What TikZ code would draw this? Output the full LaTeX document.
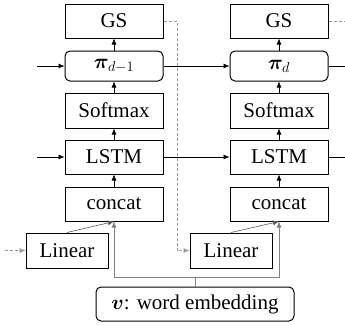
\documentclass[tikz,border=0pt]{standalone}
\usepackage{amsmath,bm}
\usepackage{fontspec}
\setmainfont{Liberation Serif}
\usetikzlibrary{arrows.meta}
\begin{document}
\begin{tikzpicture}[x=1pt,y=-1pt,
  box/.style={draw, line width=1pt, minimum width=98pt, inner sep=0pt, font=\fontsize{21}{24}\selectfont},
  rbox/.style={box, rounded corners=5pt},
  arr/.style={-{Latex[length=6pt,width=5pt]}, line width=0.6pt},
  grayline/.style={line width=0.6pt, draw=gray},
  dot/.style={densely dashed, line width=0.6pt, draw=gray!80}
]
\useasboundingbox (0,0) rectangle (345,325);
% left column
\node[box, minimum height=34pt] (gsL) at (114,21) {GS};
\node[rbox, minimum height=30pt] (piL) at (114,66) {$\bm{\pi}_{d-1}$};
\node[box, minimum height=35pt] (smL) at (114,110.5) {Softmax};
\node[box, minimum height=34pt] (lsL) at (114,157) {LSTM};
\node[box, minimum height=34pt] (ccL) at (114,204) {concat};
\node[box, minimum width=82pt, minimum height=35pt] (liL) at (67,250.5) {Linear};
% right column
\node[box, minimum height=34pt] (gsR) at (279,21) {GS};
\node[rbox, minimum height=30pt] (piR) at (279,66) {$\bm{\pi}_{d}$};
\node[box, minimum height=35pt] (smR) at (279,110.5) {Softmax};
\node[box, minimum height=34pt] (lsR) at (279,157) {LSTM};
\node[box, minimum height=34pt] (ccR) at (279,204) {concat};
\node[box, minimum width=82pt, minimum height=35pt] (liR) at (231,250.5) {Linear};
% word embedding
\node[rbox, minimum width=198pt, minimum height=34pt] (we) at (195,304) {$\bm{v}$: word embedding};
% free ends
\coordinate (inPi) at (37,66);
\coordinate (inLs) at (37,157);
\coordinate (inLi) at (5,250.5);
\coordinate (outPi) at (345,66);
\coordinate (outLs) at (345,157);
\coordinate (outGs) at (345,21);
\coordinate (j) at (195,277);
% vertical arrows
\foreach \c in {L,R} {
  \draw[arr] (pi\c) -- (gs\c);
  \draw[arr] (sm\c) -- (pi\c);
  \draw[arr] (ls\c) -- (sm\c);
  \draw[arr] (cc\c) -- (ls\c);
  \draw[arr, draw=gray!70!black] (li\c.north) -- (cc\c.south);
}
% horizontal
\draw[arr] (inPi) -- (piL);
\draw[arr] (inLs) -- (lsL);
\draw[arr] (piL) -- (piR);
\draw[arr] (lsL) -- (lsR);
\draw[line width=0.6pt] (piR) -- (outPi);
\draw[line width=0.6pt] (lsR) -- (outLs);
% dashed
\draw[dot, -{Latex[length=6pt,width=5pt]}] (inLi) -- (liL);
\draw[dot, -{Latex[length=6pt,width=5pt]}] (gsL.east) -- (177,21) |- (liR.west);
\draw[dot] (gsR.east) -- (outGs);
% word embedding tree
\draw[grayline] (we.north) -- (j);
\draw[grayline, -{Latex[length=6pt,width=5pt]}] (j) -| (ccL.south);
\draw[grayline, -{Latex[length=6pt,width=5pt]}] (j) -| (ccR.south);
\end{tikzpicture}
\end{document}
